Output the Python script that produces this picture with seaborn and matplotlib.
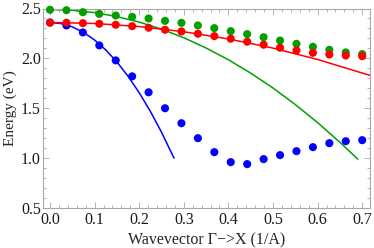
import matplotlib
matplotlib.use('Agg')
import numpy as np
import pandas as pd
import matplotlib.pyplot as plt
import seaborn as sns
from matplotlib.ticker import MultipleLocator, FormatStrFormatter

# === 資料 ===
k_dots = np.linspace(0, 0.7, 20)
blue_dots = [2.36, 2.33, 2.26, 2.13, 1.98, 1.82, 1.66, 1.50, 1.35, 1.20,
             1.06, 0.96, 0.94, 0.99, 1.03, 1.07, 1.11, 1.15, 1.17, 1.18]
red_dots = [2.357, 2.357, 2.353, 2.347, 2.337, 2.323, 2.307, 2.287, 2.270, 2.247,
            2.223, 2.197, 2.167, 2.137, 2.107, 2.080, 2.056, 2.039, 2.029, 2.022]
green_dots = [2.487, 2.483, 2.463, 2.446, 2.430, 2.416, 2.400, 2.376, 2.356, 2.330,
              2.303, 2.273, 2.243, 2.212, 2.179, 2.146, 2.116, 2.086, 2.060, 2.043]

# fitted curves
k_blue_line = [0, 0.025, 0.05, 0.075, 0.1, 0.125, 0.15, 0.175, 0.2, 0.225, 0.25, 0.278]
e_blue_line = [2.360, 2.349, 2.316, 2.261, 2.184, 2.085, 1.964, 1.821, 1.656, 1.469, 1.260, 1.00]
k_green_line = [0, 0.05, 0.1, 0.15, 0.2, 0.25, 0.3, 0.35, 0.4, 0.45, 0.5, 0.55, 0.6, 0.65, 0.69]
e_green_line = [2.490, 2.482, 2.459, 2.419, 2.364, 2.293, 2.207, 2.104, 1.986, 1.852,
                1.703, 1.537, 1.356, 1.159, 0.990]
k_red_line = [0, 0.1, 0.2, 0.3, 0.4, 0.5, 0.6, 0.72]
e_red_line = [2.360, 2.350, 2.319, 2.267, 2.195, 2.103, 1.989, 1.826]

BLUE = '#0000ff'
RED = '#ff0000'
GREEN = '#00a000'
FRAME = '#a8a8a8'

sns.set_theme(style='ticks')
plt.rcParams['font.family'] = ['Liberation Serif', 'DejaVu Serif']

fig = plt.figure(figsize=(3.74, 2.48), dpi=100)
ax = fig.add_axes([43 / 374, 1 - 208 / 248, 327 / 374, 199.5 / 248])

df_lines = pd.concat([
    pd.DataFrame({'k': k_blue_line, 'E': e_blue_line, 'band': 'blue'}),
    pd.DataFrame({'k': k_green_line, 'E': e_green_line, 'band': 'green'}),
    pd.DataFrame({'k': k_red_line, 'E': e_red_line, 'band': 'red'}),
])
df_dots = pd.concat([
    pd.DataFrame({'k': k_dots, 'E': blue_dots, 'band': 'blue'}),
    pd.DataFrame({'k': k_dots, 'E': green_dots, 'band': 'green'}),
    pd.DataFrame({'k': k_dots, 'E': red_dots, 'band': 'red'}),
])
pal = {'blue': BLUE, 'green': GREEN, 'red': RED}

sns.lineplot(data=df_lines, x='k', y='E', hue='band', palette=pal, sort=False,
             linewidth=1.1, legend=False, ax=ax, zorder=2)
sns.scatterplot(data=df_dots, x='k', y='E', hue='band', palette=pal, s=34,
                linewidth=0, legend=False, ax=ax, zorder=3, clip_on=False)

ax.set_xlim(-0.0157, 0.7175)
ax.set_ylim(0.5, 2.5)
ax.xaxis.set_major_locator(MultipleLocator(0.1))
ax.xaxis.set_minor_locator(MultipleLocator(0.02))
ax.yaxis.set_major_locator(MultipleLocator(0.5))
ax.yaxis.set_minor_locator(MultipleLocator(0.1))
ax.xaxis.set_major_formatter(FormatStrFormatter('%.1f'))
ax.yaxis.set_major_formatter(FormatStrFormatter('%.1f'))

for sp in ax.spines.values():
    sp.set_color(FRAME)
    sp.set_linewidth(0.8)
ax.tick_params(which='both', direction='in', top=True, right=True, color=FRAME,
               labelsize=11.5, labelcolor='#1a1a1a', width=0.6)
ax.tick_params(axis='x', which='major', length=4, pad=3)
ax.tick_params(axis='y', which='major', length=4, pad=1.5)
ax.tick_params(which='minor', length=2)

ax.set_xlabel('Wavevector Γ−>X (1/A)', fontsize=11.5, labelpad=3)
ax.set_ylabel('Energy (eV)', fontsize=11, labelpad=3)

fig.savefig('out.png', dpi=100)
